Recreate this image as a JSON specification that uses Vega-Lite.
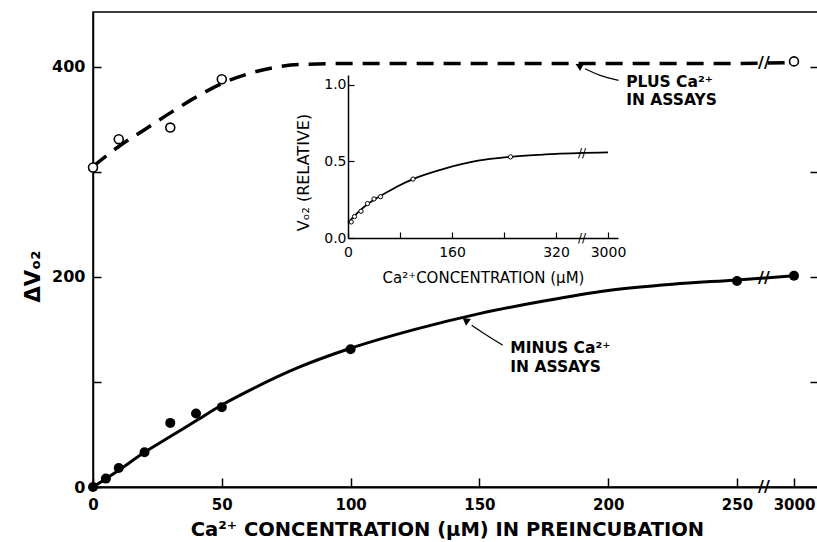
{
  "$schema": "https://vega.github.io/schema/vega-lite/v6.json",
  "width": 725,
  "height": 475,
  "autosize": {"type": "none"},
  "padding": {"left": 93, "top": 12, "right": 0, "bottom": 55},
  "background": "white",
  "config": {
    "font": "DejaVu Sans",
    "view": {"stroke": "black", "strokeWidth": 1.5},
    "axis": {"grid": false, "domainColor": "black", "tickColor": "black", "labelColor": "black", "titleColor": "black", "labelFont": "DejaVu Sans", "titleFont": "DejaVu Sans"},
    "text": {"font": "DejaVu Sans", "color": "black"}
  },
  "datasets": {
    "plus_pts": [
      {"conc": 0, "v": 304}, {"conc": 10, "v": 331}, {"conc": 30, "v": 342}, {"conc": 50, "v": 388}, {"conc": 3000, "v": 405}
    ],
    "minus_pts": [
      {"conc": 0, "v": 0}, {"conc": 5, "v": 8}, {"conc": 10, "v": 18}, {"conc": 20, "v": 33}, {"conc": 30, "v": 61}, {"conc": 40, "v": 70}, {"conc": 50, "v": 76}, {"conc": 100, "v": 131}, {"conc": 250, "v": 196}, {"conc": 3000, "v": 201}
    ],
    "plus_curve": [
      {"conc": 0, "v": 305}, {"conc": 10, "v": 324}, {"conc": 20, "v": 340}, {"conc": 30, "v": 356}, {"conc": 40, "v": 371}, {"conc": 50, "v": 384}, {"conc": 60, "v": 393}, {"conc": 70, "v": 399}, {"conc": 80, "v": 402}, {"conc": 100, "v": 403}, {"conc": 150, "v": 403}, {"conc": 200, "v": 403}, {"conc": 250, "v": 403}, {"conc": 3000, "v": 404}
    ],
    "minus_curve": [
      {"conc": 0, "v": 0}, {"conc": 10, "v": 16}, {"conc": 20, "v": 33}, {"conc": 30, "v": 48}, {"conc": 40, "v": 63}, {"conc": 50, "v": 78}, {"conc": 60, "v": 91}, {"conc": 80, "v": 114}, {"conc": 100, "v": 132}, {"conc": 125, "v": 150}, {"conc": 150, "v": 165}, {"conc": 175, "v": 177}, {"conc": 200, "v": 187}, {"conc": 225, "v": 193}, {"conc": 250, "v": 197}, {"conc": 3000, "v": 201}
    ],
    "main_breaks": [
      {"conc": 1550, "v": 0}, {"conc": 1550, "v": 403.5}, {"conc": 1550, "v": 199}
    ],
    "labels": [
      {"t": "PLUS Ca²⁺", "conc": 207, "v": 385}, {"t": "IN ASSAYS", "conc": 207, "v": 368},
      {"t": "MINUS Ca²⁺", "conc": 162, "v": 132}, {"t": "IN ASSAYS", "conc": 162, "v": 114}
    ],
    "arrows": [
      {"a": "p", "i": 0, "conc": 204, "v": 387}, {"a": "p", "i": 1, "conc": 197, "v": 391}, {"a": "p", "i": 2, "conc": 191, "v": 398},
      {"a": "m", "i": 0, "conc": 159, "v": 135}, {"a": "m", "i": 1, "conc": 153, "v": 144}, {"a": "m", "i": 2, "conc": 147, "v": 154}
    ],
    "heads": [
      {"conc": 189, "v": 400.5, "ang": 297}, {"conc": 145, "v": 158, "ang": 306}
    ],
    "inset_pts": [
      {"conc": 5, "r": 0.105}, {"conc": 10, "r": 0.14}, {"conc": 20, "r": 0.175}, {"conc": 30, "r": 0.225}, {"conc": 40, "r": 0.255}, {"conc": 50, "r": 0.27}, {"conc": 100, "r": 0.385}, {"conc": 250, "r": 0.53}
    ],
    "inset_curve": [
      {"conc": 0, "r": 0.10}, {"conc": 10, "r": 0.145}, {"conc": 20, "r": 0.185}, {"conc": 30, "r": 0.22}, {"conc": 40, "r": 0.25}, {"conc": 50, "r": 0.275}, {"conc": 75, "r": 0.335}, {"conc": 100, "r": 0.385}, {"conc": 150, "r": 0.455}, {"conc": 200, "r": 0.505}, {"conc": 250, "r": 0.53}, {"conc": 300, "r": 0.545}, {"conc": 320, "r": 0.55}, {"conc": 3000, "r": 0.56}
    ],
    "inset_breaks": [
      {"conc": 1660, "r": 0}, {"conc": 1660, "r": 0.556}
    ]
  },
  "layer": [
    {
      "layer": [
        {
          "data": {"name": "minus_curve"},
          "mark": {"type": "line", "color": "black", "strokeWidth": 3, "interpolate": "monotone"},
          "encoding": {
            "x": {"field": "conc", "type": "quantitative",
              "scale": {"domain": [0, 250, 3000, 3300], "range": [0, 644, 701, 725], "nice": false, "zero": false},
              "axis": {"values": [0, 50, 100, 150, 200, 250, 3000], "format": "d", "tickSize": -9, "tickWidth": 1.5, "domainWidth": 2, "labelPadding": 19, "labelFontSize": 15, "labelFontWeight": "bold", "labelFlush": false,
                "title": "Ca²⁺ CONCENTRATION (μM) IN PREINCUBATION", "titleFontSize": 19.5, "titleFontWeight": "bold", "titlePadding": 8, "titleX": 354}},
            "y": {"field": "v", "type": "quantitative",
              "scale": {"domain": [0, 452], "nice": false},
              "axis": {"orient": "left", "values": [0, 100, 200, 300, 400], "labelExpr": "datum.value % 200 == 0 ? datum.label : ''", "tickSize": -8, "tickWidth": 1.5, "domainWidth": 1.5, "labelPadding": 16, "labelFontSize": 16, "labelFontWeight": "bold",
                "title": "ΔVₒ₂", "titleFontSize": 21, "titleFontWeight": "bold", "titleAngle": -90, "titleX": -60, "titleY": 264, "titleAlign": "center", "titleBaseline": "middle"}}
          }
        },
        {
          "data": {"name": "plus_curve"},
          "mark": {"type": "line", "color": "black", "strokeWidth": 3.5, "strokeDash": [17, 10], "interpolate": "monotone"},
          "encoding": {
            "x": {"field": "conc", "type": "quantitative"},
            "y": {"field": "v", "type": "quantitative", "axis": {"orient": "right", "values": [100, 200, 300, 400], "labels": false, "domain": false, "tickSize": -8, "tickWidth": 1.5, "title": null}}
          }
        },
        {
          "data": {"name": "minus_pts"},
          "mark": {"type": "point", "shape": "circle", "filled": true, "color": "black", "size": 100, "opacity": 1},
          "encoding": {
            "x": {"field": "conc", "type": "quantitative"},
            "y": {"field": "v", "type": "quantitative", "axis": null}
          }
        },
        {
          "data": {"name": "plus_pts"},
          "mark": {"type": "point", "shape": "circle", "fill": "white", "stroke": "black", "strokeWidth": 1.6, "size": 80, "opacity": 1},
          "encoding": {
            "x": {"field": "conc", "type": "quantitative"},
            "y": {"field": "v", "type": "quantitative", "axis": null}
          }
        },
        {
          "data": {"name": "main_breaks"},
          "mark": {"type": "text", "text": "//", "fontSize": 16, "fontWeight": "bold", "align": "center", "baseline": "middle"},
          "encoding": {
            "x": {"field": "conc", "type": "quantitative"},
            "y": {"field": "v", "type": "quantitative", "axis": null}
          }
        },
        {
          "data": {"name": "labels"},
          "mark": {"type": "text", "fontSize": 15.5, "fontWeight": "bold", "align": "left", "baseline": "middle"},
          "encoding": {
            "x": {"field": "conc", "type": "quantitative"},
            "y": {"field": "v", "type": "quantitative", "axis": null},
            "text": {"field": "t"}
          }
        },
        {
          "data": {"name": "arrows"},
          "mark": {"type": "line", "color": "black", "strokeWidth": 1.2, "interpolate": "basis"},
          "encoding": {
            "x": {"field": "conc", "type": "quantitative"},
            "y": {"field": "v", "type": "quantitative", "axis": null},
            "detail": {"field": "a"},
            "order": {"field": "i"}
          }
        },
        {
          "data": {"name": "heads"},
          "mark": {"type": "point", "shape": "triangle", "filled": true, "color": "black", "size": 70, "opacity": 1},
          "encoding": {
            "x": {"field": "conc", "type": "quantitative"},
            "y": {"field": "v", "type": "quantitative", "axis": null},
            "angle": {"field": "ang", "type": "quantitative", "scale": null}
          }
        }
      ],
      "resolve": {"axis": {"y": "independent"}}
    },
    {
      "layer": [
        {
          "data": {"name": "inset_curve"},
          "mark": {"type": "line", "color": "black", "strokeWidth": 1.8, "interpolate": "monotone"},
          "encoding": {
            "x": {"field": "conc", "type": "quantitative",
              "scale": {"domain": [0, 320, 3000, 3200], "range": [255, 463, 515, 525], "nice": false, "zero": false},
              "axis": {"orient": "bottom", "offset": -249, "values": [0, 80, 160, 240, 320, 3000], "format": "d", "labelExpr": "datum.value == 80 || datum.value == 240 ? '' : datum.label", "tickSize": -6, "tickWidth": 1.2, "domainWidth": 1.5, "labelPadding": 13, "labelFontSize": 14, "labelFlush": false,
                "title": "Ca²⁺CONCENTRATION (μM)", "titleFontSize": 15, "titleFontWeight": "normal", "titlePadding": 11}},
            "y": {"field": "r", "type": "quantitative",
              "scale": {"domain": [0, 1.065], "range": [226, 63], "nice": false},
              "axis": {"orient": "left", "offset": -255, "values": [0, 0.5, 1], "format": ".1f", "tickSize": -6, "tickWidth": 1.2, "domainWidth": 1.5, "labelPadding": 8, "labelFontSize": 14,
                "title": "Vₒ₂ (RELATIVE)", "titleFontSize": 16, "titleFontWeight": "normal", "titlePadding": 12, "titleY": 160}}
          }
        },
        {
          "data": {"name": "inset_pts"},
          "mark": {"type": "point", "shape": "circle", "fill": "white", "stroke": "black", "strokeWidth": 1, "size": 18, "opacity": 1},
          "encoding": {
            "x": {"field": "conc", "type": "quantitative"},
            "y": {"field": "r", "type": "quantitative"}
          }
        },
        {
          "data": {"name": "inset_breaks"},
          "mark": {"type": "text", "text": "//", "fontSize": 12, "fontWeight": "normal", "align": "center", "baseline": "middle"},
          "encoding": {
            "x": {"field": "conc", "type": "quantitative"},
            "y": {"field": "r", "type": "quantitative"}
          }
        }
      ]
    }
  ],
  "resolve": {"scale": {"x": "independent", "y": "independent"}, "axis": {"x": "independent", "y": "independent"}}
}
